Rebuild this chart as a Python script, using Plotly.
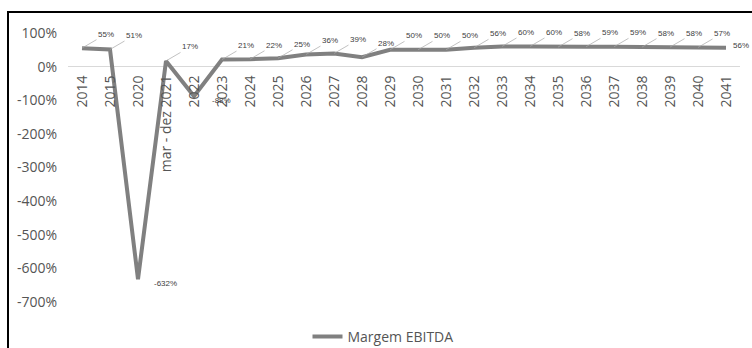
import plotly.graph_objects as go

# Categories (years; 2021 covers March to December only)
periods = ["2014", "2015", "2020", "mar - dez 2021", "2022", "2023", "2024", "2025",
           "2026", "2027", "2028", "2029", "2030", "2031", "2032", "2033", "2034",
           "2035", "2036", "2037", "2038", "2039", "2040", "2041"]

# EBITDA margin, in percent
margem_ebitda = [55, 51, -632, 17, -88, 21, 22, 25, 36, 39, 28, 50, 50, 50, 56, 60, 60,
                 58, 59, 59, 58, 58, 57, 56]

# Y-axis ticks
y_tick_values = [100, 0, -100, -200, -300, -400, -500, -600, -700]
y_tick_labels = ["100%", "0%", "-100%", "-200%", "-300%", "-400%", "-500%", "-600%", "-700%"]

y_min, y_max = -700, 100

W, H = 752, 348
M_L, M_R, M_T, M_B = 68, 12, 33, 46
plot_h = H - M_T - M_B
plot_w = W - M_L - M_R

LINE_COLOR = "#808080"
TEXT_COLOR = "#555555"
LABEL_FONT = dict(size=8, color="#404040",
                  family="Liberation Sans Narrow, Liberation Sans, Arial")

fig = go.Figure()
fig.add_trace(go.Scatter(
    x=periods, y=margem_ebitda, mode="lines", name="Margem EBITDA",
    line=dict(color=LINE_COLOR, width=4),
    hoverinfo="x+y",
))

# Data labels with thin leader lines (x given as category index)
annotations = []
last = len(margem_ebitda) - 1
for idx, val in enumerate(margem_ebitda):
    label = f"{val}%"
    if idx == last:
        # last label sits right next to the line end
        annotations.append(dict(
            x=idx, y=val, xref="x", yref="y", text=label,
            showarrow=True, arrowhead=0, arrowwidth=0.1, arrowcolor="rgba(0,0,0,0)",
            ax=15, ay=-2, xanchor="center", yanchor="middle", font=LABEL_FONT,
        ))
    elif val >= 0:
        annotations.append(dict(
            x=idx, y=val, xref="x", yref="y", text=label,
            showarrow=True, arrowhead=0, arrowwidth=0.7, arrowcolor="#a6a6a6",
            ax=24, ay=-14, xanchor="center", yanchor="middle", font=LABEL_FONT,
        ))
    else:
        annotations.append(dict(
            x=idx, y=val, xref="x", yref="y", text=label,
            showarrow=True, arrowhead=0, arrowwidth=0.1, arrowcolor="rgba(0,0,0,0)",
            ax=27, ay=4, xanchor="center", yanchor="middle", font=LABEL_FONT,
        ))

# Outer chart frame
frame_x0 = (8 - M_L) / plot_w
frame_y1 = 1 + (M_T - 12) / plot_h
shapes = [dict(type="rect", xref="paper", yref="paper",
               x0=frame_x0, x1=1.2, y0=-0.4, y1=frame_y1,
               line=dict(color="black", width=2), fillcolor="rgba(0,0,0,0)", layer="above")]

zero_pos = (0 - y_min) / (y_max - y_min)

fig.update_layout(
    width=W, height=H,
    margin=dict(l=M_L, r=M_R, t=M_T, b=M_B, pad=0, autoexpand=False),
    paper_bgcolor="white", plot_bgcolor="white",
    font=dict(family="Open Sans, Liberation Sans, Arial", color=TEXT_COLOR, size=14),
    showlegend=True,
    legend=dict(orientation="h", xref="container", yref="container",
                x=383 / W, xanchor="center", y=(H - 337) / H, yanchor="middle",
                font=dict(size=14, color=TEXT_COLOR), bgcolor="rgba(0,0,0,0)"),
    xaxis=dict(type="category", categoryorder="array", categoryarray=periods,
               anchor="free", position=zero_pos, side="bottom",
               tickangle=-90, showline=False, showgrid=False, ticks="",
               tickfont=dict(size=14, color=TEXT_COLOR), automargin=False,
               ticklabelstandoff=5, range=[-0.5, len(periods) - 0.5]),
    yaxis=dict(range=[y_min, y_max], tickvals=y_tick_values, ticktext=y_tick_labels,
               showgrid=False, zeroline=True, zerolinecolor="#d9d9d9", zerolinewidth=1,
               ticks="", showline=False, tickfont=dict(size=14, color=TEXT_COLOR),
               ticklabelstandoff=10, automargin=False),
    annotations=annotations,
    shapes=shapes,
)

fig.write_html("out.html")
